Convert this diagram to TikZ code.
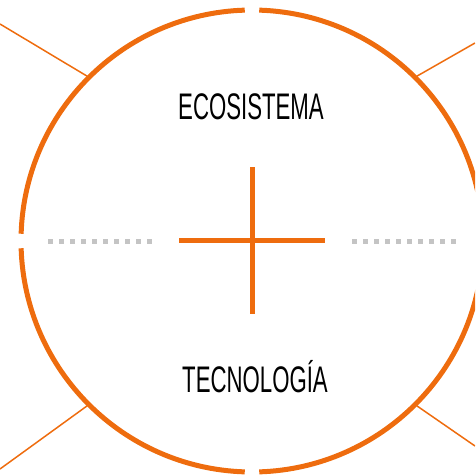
\documentclass[tikz,border=0pt]{standalone}
\usepackage{fontspec}
\newfontfamily\narrowfont[FakeStretch=0.6]{Liberation Sans}
\usepackage{tikz}
\usetikzlibrary{positioning}
\definecolor{ringorange}{RGB}{238,108,14}
\definecolor{dotgrey}{RGB}{196,196,196}
\tikzset{
	ring/.style = {draw=ringorange, line width=5pt},
	spoke/.style = {draw=ringorange, line width=1.5pt},
	dotline/.style = {draw=dotgrey, line width=5pt, dash pattern=on 5pt off 6pt},
	word/.style = {font=\narrowfont\fontsize{37}{37}\selectfont, anchor=base, inner sep=0pt}
}
\newcommand{\greyrule}{\draw[dotline] (0,0) -- (104,0);}

\begin{document}
\begin{tikzpicture}[x=1pt, y=-1pt]

					\useasboundingbox (0,0) rectangle (475,475);
					\clip (0,0) rectangle (475,475);

					\coordinate (c) at (252,241);

					\draw[ring] ([shift={(c)}]-88.2:231) arc[start angle=-88.2, end angle=88.2, radius=231];
					\draw[ring] ([shift={(c)}]91.8:231) arc[start angle=91.8, end angle=178.2, radius=231];
					\draw[ring] ([shift={(c)}]181.8:231) arc[start angle=181.8, end angle=268.2, radius=231];

					\coordinate (nw) at ([shift={(c)}]-135:233);
					\coordinate (ne) at ([shift={(c)}]-45:233);
					\coordinate (sw) at ([shift={(c)}]135:233);
					\coordinate (se) at ([shift={(c)}]45:233);
					\coordinate (nwend) at (0,24);
					\coordinate (neend) at (475,43);
					\coordinate (swend) at (0,469);
					\coordinate (seend) at (475,446);

					\draw[spoke] (nw) -- (nwend);
					\draw[spoke] (ne) -- (neend);
					\draw[spoke] (sw) -- (swend);
					\draw[spoke] (se) -- (seend);

					\coordinate (crosstop) at (252,167);
					\coordinate (crossbottom) at (252,314);
					\coordinate (crossleft) at (179,240);
					\coordinate (crossright) at (325,240);

					\draw[ring] (crosstop) -- (crossbottom);
					\draw[ring] (crossleft) -- (crossright);

					\begin{scope}[shift={(48,241)}]
						\greyrule
					\end{scope}

					\begin{scope}[shift={(352,241)}]
						\greyrule
					\end{scope}

					\node[word] (eco) at (251,119) {ECOSISTEMA};
					\node[word] (tec) at (255,392) {TECNOLOGÍA};

\end{tikzpicture}
\end{document}
